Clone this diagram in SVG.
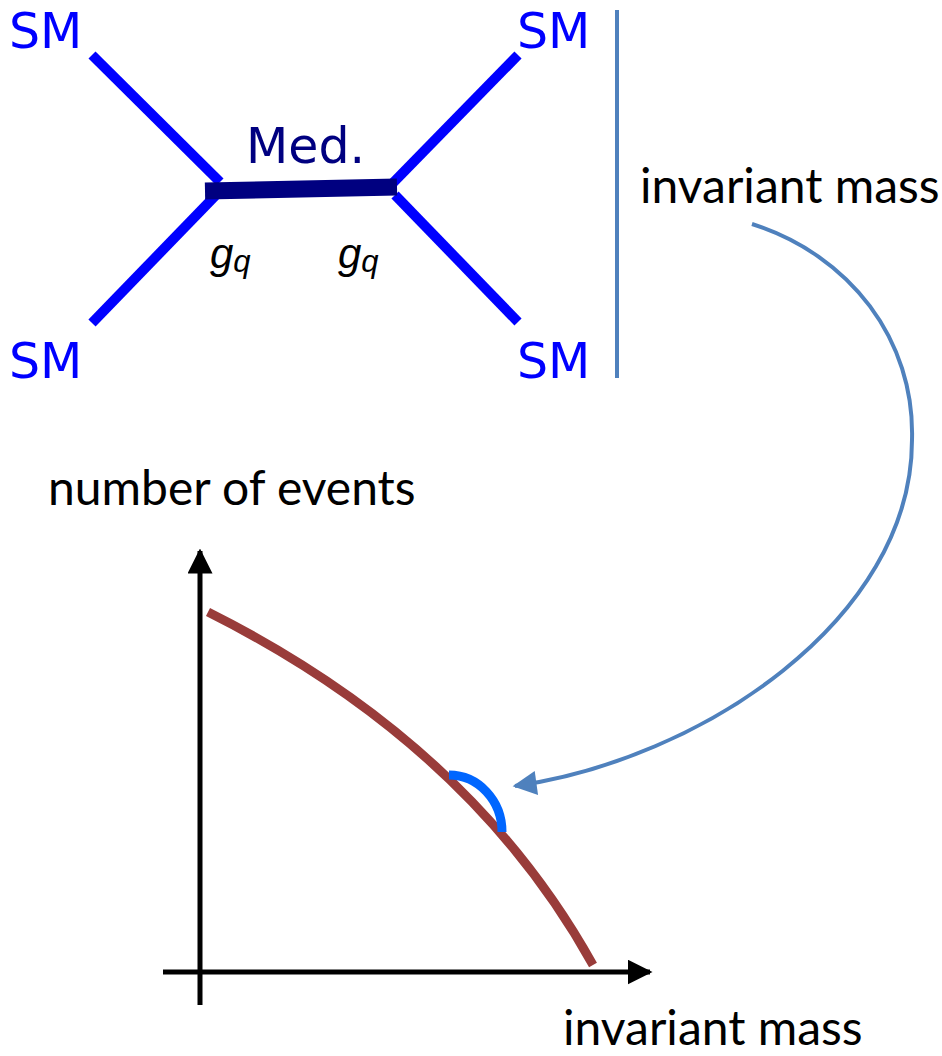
<svg xmlns="http://www.w3.org/2000/svg" width="942" height="1056" viewBox="0 0 942 1056">
<style>
.sm{font-family:"DejaVu Sans",sans-serif;font-size:49px;fill:#0000ff}
.med{font-family:"DejaVu Sans",sans-serif;font-size:49px;fill:#000080}
.g{font-family:"Liberation Sans",Arial,sans-serif;font-style:italic;font-size:42px;fill:#000}
.gs{font-size:31px}
.lbl{font-family:Lato,"Noto Sans",sans-serif;font-size:48px;fill:#000}
.leg{stroke:#0000ff;stroke-width:10;fill:none}
</style>
<defs>
<marker id="ah" viewBox="0 0 10 10" refX="9" refY="5" markerWidth="7" markerHeight="6" markerUnits="strokeWidth" orient="auto"><path d="M0,0 L10,5 L0,10 z" fill="#4f81bd"/></marker>
<marker id="axh" viewBox="0 0 10 10" refX="9" refY="5" markerWidth="5" markerHeight="5" markerUnits="strokeWidth" orient="auto"><path d="M0,0 L10,5 L0,10 z" fill="#000"/></marker>
</defs>
<g id="feynman">
<line class="leg" x1="92" y1="55" x2="220" y2="182"/>
<line class="leg" x1="216" y1="195" x2="92" y2="323"/>
<line class="leg" x1="518" y1="55" x2="388" y2="188"/>
<line class="leg" x1="395" y1="195" x2="518" y2="322"/>
<line x1="205" y1="191" x2="397" y2="187" stroke="#000080" stroke-width="17"/>
</g>
<g id="labels">
<text class="sm" x="9" y="48">SM</text>
<text class="sm" x="517" y="48">SM</text>
<text class="sm" x="9" y="378">SM</text>
<text class="sm" x="517" y="378">SM</text>
<text class="med" x="246" y="163">Med.</text>
<text class="g" x="210" y="268">g<tspan class="gs" dy="4">q</tspan></text>
<text class="g" x="338" y="268">g<tspan class="gs" dy="4">q</tspan></text>
</g>
<g id="separator"><line x1="617" y1="10" x2="617" y2="378" stroke="#4f81bd" stroke-width="4"/></g>
<g id="mass-label"><text class="lbl" x="640" y="203">invariant mass</text></g>
<g id="plot">
<text class="lbl" x="48" y="505">number of events</text>
<line x1="200" y1="1005" x2="200" y2="551" stroke="#000" stroke-width="5" marker-end="url(#axh)"/>
<line x1="163" y1="972" x2="650" y2="972" stroke="#000" stroke-width="5" marker-end="url(#axh)"/>
<path d="M208,612 Q469.5,743 593,965" fill="none" stroke="#993c3a" stroke-width="9"/>
<path d="M449,775 A53,57 0 0 1 502,832" fill="none" stroke="#0066ff" stroke-width="9"/>
<text class="lbl" x="563" y="1045">invariant mass</text>
</g>
<g id="connectors">
<path d="M752,224 C850,255 915,340 912,440 C912,620 700,760 515,786" fill="none" stroke="#4f81bd" stroke-width="4" marker-end="url(#ah)"/>
</g>
</svg>
